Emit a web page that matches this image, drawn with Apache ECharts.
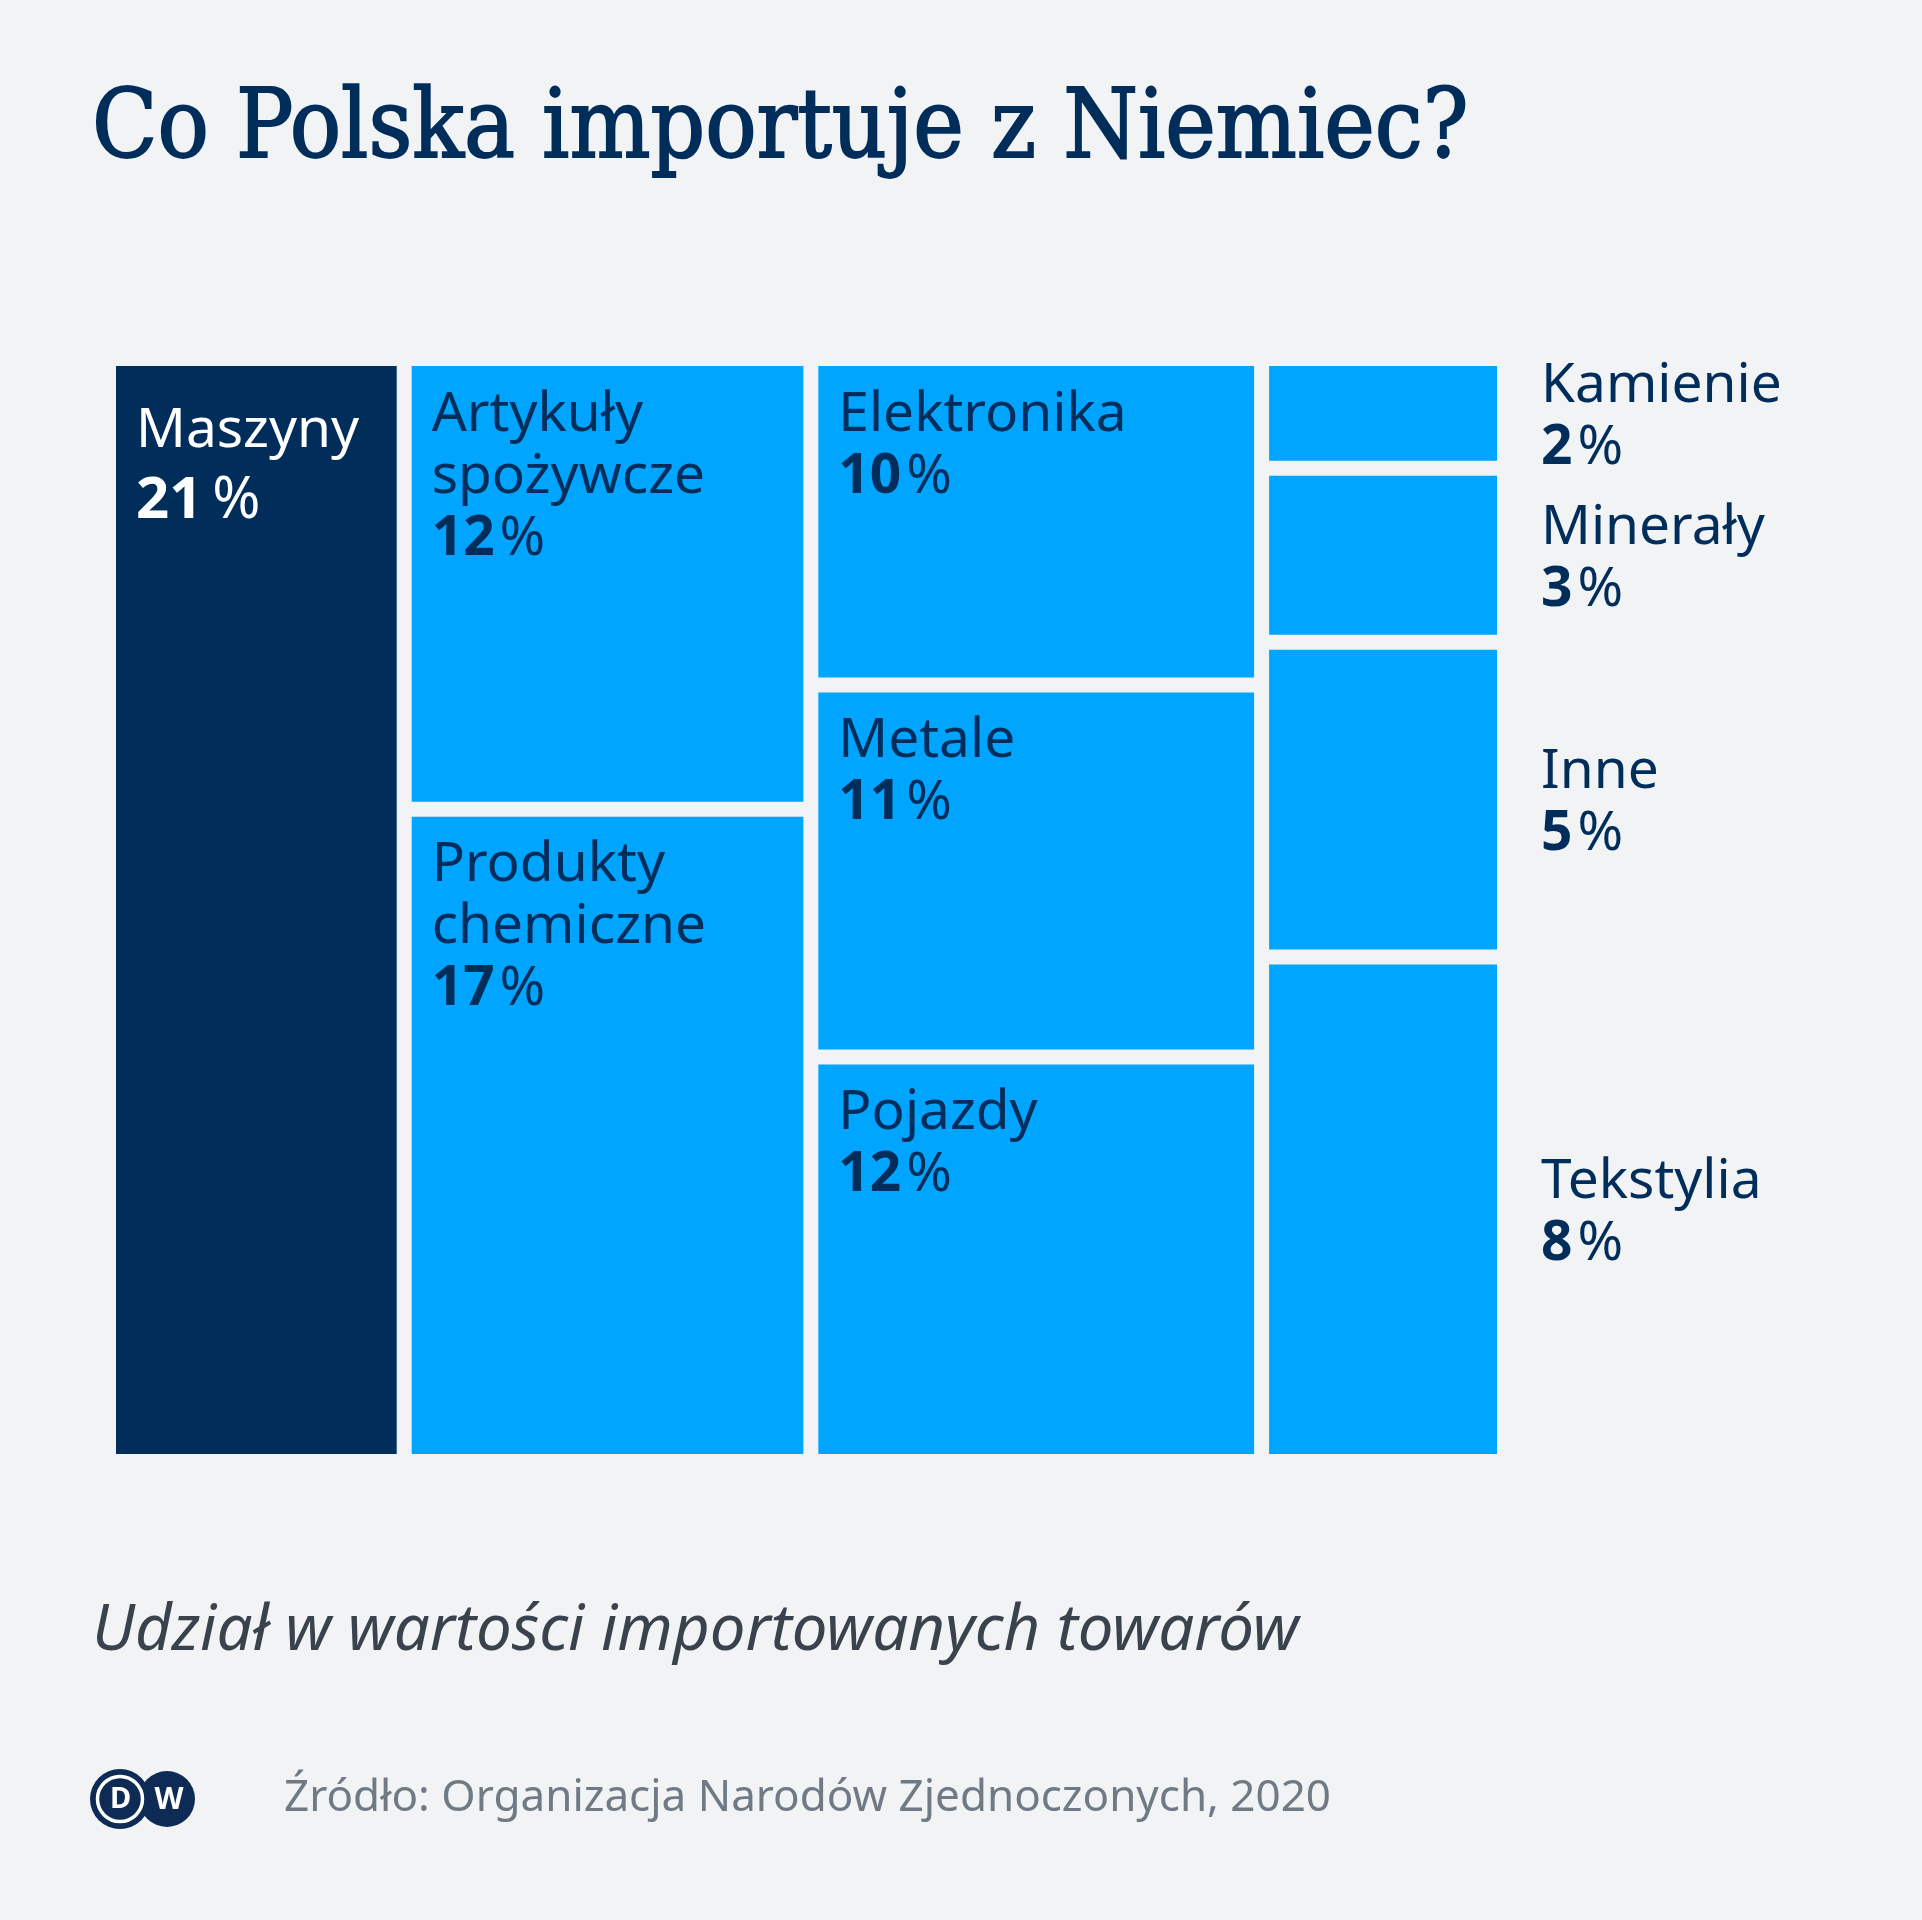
<!DOCTYPE html>
<html><head><meta charset="utf-8">
<script src="https://cdn.jsdelivr.net/npm/echarts@6/dist/echarts.min.js"></script>
<style>html,body{margin:0;padding:0;background:#f1f3f5}#c{width:1922px;height:1920px}</style>
</head><body><div id="c"></div>
<script>
// ---- data ----
const categories = ['Maszyny', 'Artykuły\nspożywcze', 'Produkty\nchemiczne', 'Elektronika', 'Metale', 'Pojazdy', 'Kamienie', 'Minerały', 'Inne', 'Tekstylia'];
const shares = [21.0, 11.9, 17.4, 9.6, 11.0, 12.0, 1.55, 2.6, 4.9, 8.0];
const columnOf = [0, 1, 1, 2, 2, 2, 3, 3, 3, 3];
const highlight = 'Maszyny';
const titleText = 'Co Polska importuje z Niemiec?';
const subtitleText = 'Udział w wartości importowanych towarów';
const sourceText = 'Źródło: Organizacja Narodów Zjednoczonych, 2020';

// ---- layout helpers ----
const TOTAL = shares.reduce((a, b) => a + b, 0);
const nCols = Math.max(...columnOf) + 1;
const colSums = new Array(nCols).fill(0);
shares.forEach((v, i) => colSums[columnOf[i]] += v);
const colStart = []; let acc = 0;
for (let c = 0; c < nCols; c++) { colStart[c] = acc; acc += colSums[c]; }
const rowsIn = new Array(nCols).fill(0);
columnOf.forEach(c => rowsIn[c]++);
const rowCum = new Array(nCols).fill(0), rowIdx = new Array(nCols).fill(0);
const cellData = shares.map((v, i) => {
  const c = columnOf[i];
  const y0 = rowCum[c] / colSums[c]; rowCum[c] += v; const y1 = rowCum[c] / colSums[c];
  return { name: categories[i], value: [colStart[c], colStart[c] + colSums[c], y0, y1, c, rowIdx[c]++, rowsIn[c], Math.round(v)] };
});

const NAVY = '#002d5a', BLUE = '#00a5ff', GAP = 15;
const FS = 55, LH = 62, FONT = "'Noto Sans', sans-serif";

function renderItem(params, api) {
  const d = cellData[params.dataIndex];
  const [xs, xe, y0, y1, c, r, nr, pct] = d.value;
  const p0 = api.coord([0, 0]), p1 = api.coord([TOTAL, 1]);
  const W = p1[0] - p0[0], H = p1[1] - p0[1];
  const sx = (W - (nCols - 1) * GAP) / TOTAL;
  const sy = H - (nr - 1) * GAP;
  const x = p0[0] + xs * sx + c * GAP, w = (xe - xs) * sx;
  const y = p0[1] + y0 * sy + r * GAP, h = (y1 - y0) * sy;
  const dark = d.name === highlight;
  const tc = dark ? '#ffffff' : NAVY;
  const lh = dark ? 70 : LH;
  const text = d.name.split('\n').map(s => '{n|' + s + '}').join('\n') + '\n{b|' + pct + '}{p|%}';
  const rich = {
    n: { fontSize: FS, fontFamily: FONT, lineHeight: lh, fill: tc },
    b: { fontSize: dark ? 58 : FS, fontFamily: FONT, fontWeight: 'bold', lineHeight: lh, fill: tc },
    p: { fontSize: dark ? 58 : FS, fontFamily: FONT, lineHeight: lh, fill: tc, padding: [0, 0, 0, dark ? 10 : 5] }
  };
  const outside = c === nCols - 1;
  const label = outside
    ? { type: 'text', x: x + w + 44, y: y + h / 2 + 4, style: { text, rich, align: 'left', verticalAlign: 'middle' } }
    : { type: 'text', x: x + 20, y: y + (dark ? 30 : 18), style: { text, rich, align: 'left', verticalAlign: 'top' } };
  return {
    type: 'group',
    children: [
      { type: 'rect', shape: { x, y, width: w, height: h }, style: { fill: dark ? NAVY : BLUE } },
      label
    ]
  };
}

const chart = echarts.init(document.getElementById('c'), null, { renderer: 'canvas' });
chart.setOption({
  backgroundColor: '#f1f3f5',
  animation: false,
  grid: { left: 116, right: 425, top: 366, bottom: 466 },
  xAxis: { type: 'value', min: 0, max: TOTAL, show: false },
  yAxis: { type: 'value', min: 0, max: 1, inverse: true, show: false },
  series: [{ type: 'custom', renderItem, data: cellData, clip: false }],
  graphic: [
    { type: 'text', x: 92, y: 180, style: { text: titleText, fill: NAVY, stroke: NAVY, lineWidth: 1.8, fontSize: 95, fontFamily: "'DejaVu Serif Condensed', 'Liberation Serif', serif", fontWeight: 'normal', verticalAlign: 'bottom' } },
    { type: 'text', x: 92, y: 1664, style: { text: subtitleText, fill: '#3a434d', fontSize: 63.5, fontStyle: 'italic', fontFamily: FONT, verticalAlign: 'bottom' } },
    { type: 'text', x: 284, y: 1820, style: { text: sourceText, fill: '#707a85', fontSize: 44, fontFamily: FONT, verticalAlign: 'bottom' } },
    { type: 'circle', shape: { cx: 167, cy: 1799, r: 28 }, style: { fill: '#0d2b55' } },
    { type: 'circle', shape: { cx: 120, cy: 1799, r: 30 }, style: { fill: '#0d2b55' } },
    { type: 'circle', shape: { cx: 120, cy: 1799, r: 22.5 }, style: { fill: 'none', stroke: '#ffffff', lineWidth: 3.5 } },
    { type: 'text', x: 120.5, y: 1800, style: { text: 'D', fill: '#ffffff', fontSize: 29, fontWeight: 'bold', fontFamily: FONT, align: 'center', verticalAlign: 'middle' } },
    { type: 'text', x: 169, y: 1800, style: { text: 'W', fill: '#ffffff', fontSize: 30, fontWeight: 'bold', fontFamily: FONT, align: 'center', verticalAlign: 'middle' } }
  ]
});
</script></body></html>
